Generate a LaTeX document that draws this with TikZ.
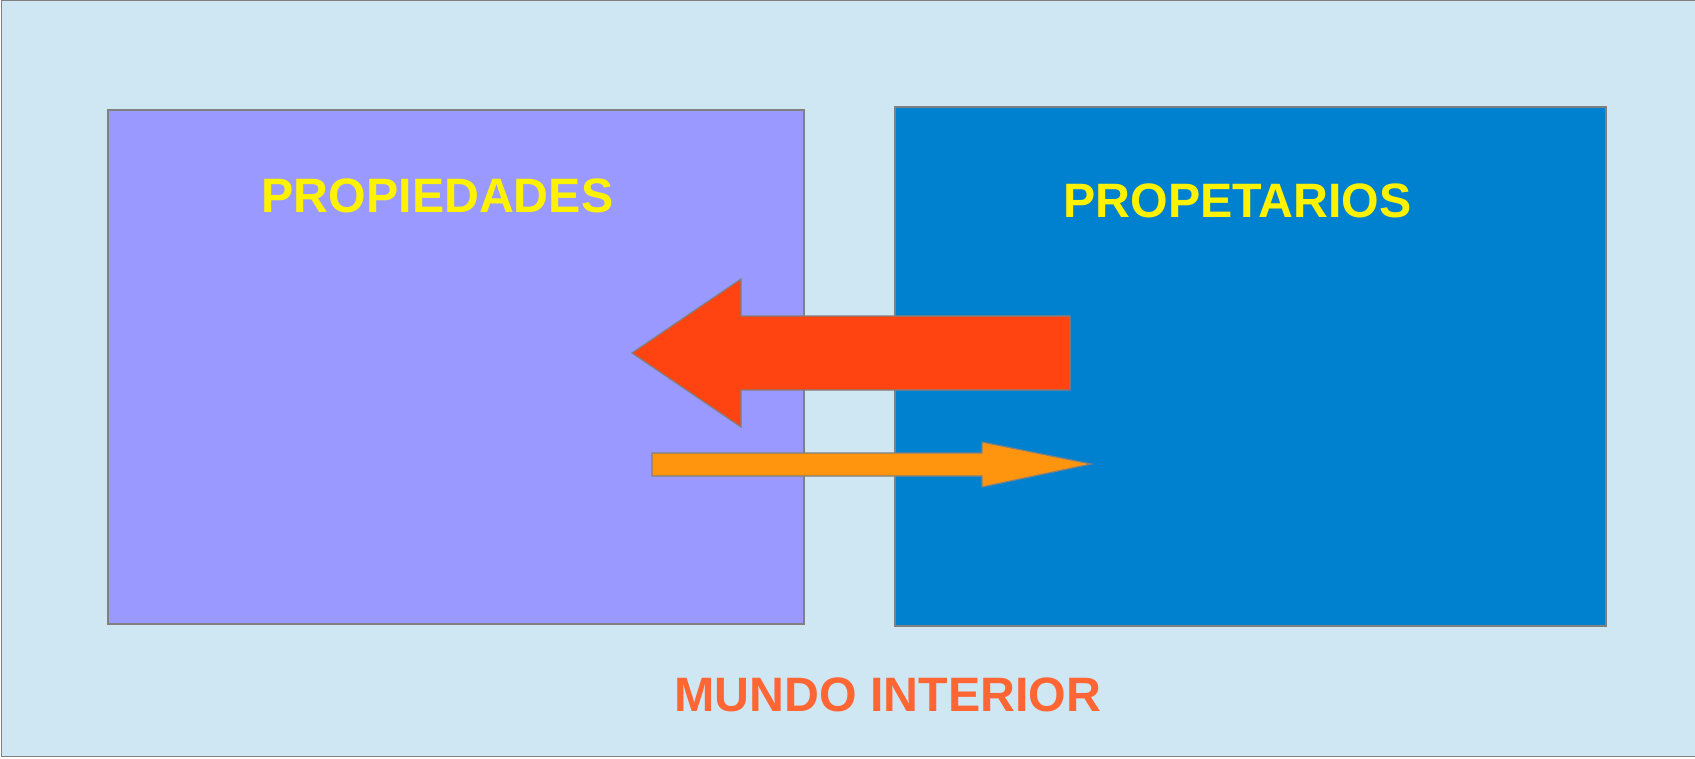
\documentclass[tikz,border=0pt]{standalone}
\usepackage{fontspec}
\setmainfont{Liberation Sans}
\usetikzlibrary{positioning}
\definecolor{fondo}{HTML}{CFE6F3}
\definecolor{lila}{HTML}{9999FF}
\definecolor{azul}{HTML}{0081CF}
\definecolor{rojo}{HTML}{FF4411}
\definecolor{naranja}{HTML}{FF950E}
\definecolor{mundo}{HTML}{FF6633}
\newcommand{\letra}{\fontsize{48.3}{58}\selectfont\bfseries}

\begin{document}
\begin{tikzpicture}[x=1pt, y=-1pt,
    caja/.style={draw=gray, line width=1.5pt, anchor=north west, inner sep=0pt},
    titulo/.style={text=yellow, font=\letra, anchor=base, inner sep=0pt}]
    \useasboundingbox (0,0) rectangle (1695,758);
    %Fondo
    \draw[fill=fondo, draw=gray, line width=1.5pt] (1.5,0.5) rectangle (1730,756.5);
    %Cajas
    \node[caja, fill=lila, minimum width=696pt, minimum height=514pt] (propiedades) at (107,109) {};
    \node[caja, fill=azul, minimum width=711pt, minimum height=519pt] (propetarios) at (894,106) {};
    \node[titulo] (tprop) at (437.5,212) {PROPIEDADES};
    \node[titulo] (tduen) at (1237.5,217.5) {PROPETARIOS};
    \node[titulo, text=mundo] (mundo) at (888,711) {MUNDO INTERIOR};
    %Flechas
    \draw[fill=rojo, draw=gray, line width=1.2pt, line join=miter]
        (632,353) -- (741,279) -- (741,316) -- (1070,316) -- (1070,390) -- (741,390) -- (741,427) -- cycle;
    \draw[fill=naranja, draw=gray, line width=1.2pt, line join=miter]
        (652,453) -- (982,453) -- (982,442) -- (1091,464) -- (982,487) -- (982,476) -- (652,476) -- cycle;
\end{tikzpicture}
\end{document}
